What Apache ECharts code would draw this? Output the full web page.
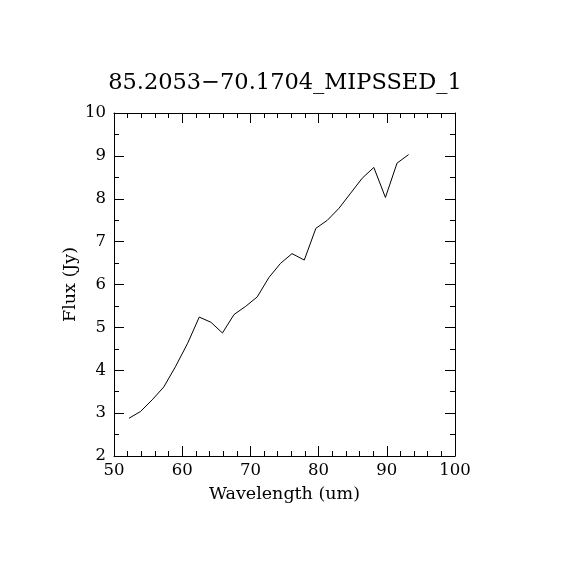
<!DOCTYPE html>
<html>
<head>
<meta charset="utf-8">
<script src="https://cdn.jsdelivr.net/npm/echarts@6/dist/echarts.min.js"></script>
<style>
  html, body { margin: 0; padding: 0; background: #fff; }
  #chart { width: 570px; height: 570px; }
</style>
</head>
<body>
<div id="chart"></div>
<script>
const chartTitle = '85.2053\u221270.1704_MIPSSED_1'
const wavelength = [52.2, 53.9, 55.6, 57.3, 59.0, 60.8, 62.5, 64.2, 65.9, 67.6, 69.3, 71.0, 72.7,
  74.4, 76.1, 77.9, 79.6, 81.3, 83.0, 84.7, 86.4, 88.1, 89.8, 91.5, 93.2]
const flux = [2.88, 3.04, 3.31, 3.61, 4.08, 4.63, 5.24, 5.12, 4.87, 5.3, 5.49, 5.71, 6.16,
  6.49, 6.72, 6.57, 7.31, 7.5, 7.78, 8.13, 8.48, 8.73, 8.03, 8.83, 9.03]

const font = 'DejaVu Serif'
const black = '#000'

const baseAxis = {
  axisLine: { show: true, onZero: false, lineStyle: { color: black, width: 1 } },
  axisTick: { show: true, inside: true, length: 10, lineStyle: { color: black } },
  minorTick: { show: true, length: 5, lineStyle: { color: black } },
  splitLine: { show: false },
  minorSplitLine: { show: false }
}

const option = {
  animation: false,
  backgroundColor: '#fff',
  title: {
    text: chartTitle,
    left: 'center',
    top: 67,
    textStyle: { fontFamily: font, fontSize: 22.5, fontWeight: 'normal', color: black }
  },
  grid: { left: 114, right: 115, top: 113, bottom: 114 },
  xAxis: [
    Object.assign({}, baseAxis, {
      type: 'value', min: 50, max: 100, interval: 10, position: 'bottom',
      minorTick: Object.assign({}, baseAxis.minorTick, { splitNumber: 5 }),
      name: 'Wavelength (um)', nameLocation: 'middle', nameGap: 29,
      nameTextStyle: { fontFamily: font, fontSize: 17.5, color: black },
      axisLabel: { fontFamily: font, fontSize: 16.5, color: black, margin: 6 }
    }),
    Object.assign({}, baseAxis, {
      type: 'value', min: 50, max: 100, interval: 10, position: 'top',
      minorTick: Object.assign({}, baseAxis.minorTick, { splitNumber: 5 }),
      axisLabel: { show: false }
    })
  ],
  yAxis: [
    Object.assign({}, baseAxis, {
      type: 'value', min: 2, max: 10, interval: 1, position: 'left',
      minorTick: Object.assign({}, baseAxis.minorTick, { splitNumber: 2 }),
      name: 'Flux (Jy)', nameLocation: 'middle', nameGap: 35, nameRotate: 90,
      nameMoveOverlap: false,
      nameTextStyle: { fontFamily: font, fontSize: 17.5, color: black },
      axisLabel: { fontFamily: font, fontSize: 16.5, color: black, margin: 8 }
    }),
    Object.assign({}, baseAxis, {
      type: 'value', min: 2, max: 10, interval: 1, position: 'right',
      minorTick: Object.assign({}, baseAxis.minorTick, { splitNumber: 2 }),
      axisLabel: { show: false }
    })
  ],
  series: [{
    type: 'line',
    data: wavelength.map((w, i) => [w, flux[i]]),
    showSymbol: false,
    lineStyle: { color: black, width: 1 },
    silent: true
  }]
}

const chart = echarts.init(document.getElementById('chart'))
chart.setOption(option)
</script>
</body>
</html>
